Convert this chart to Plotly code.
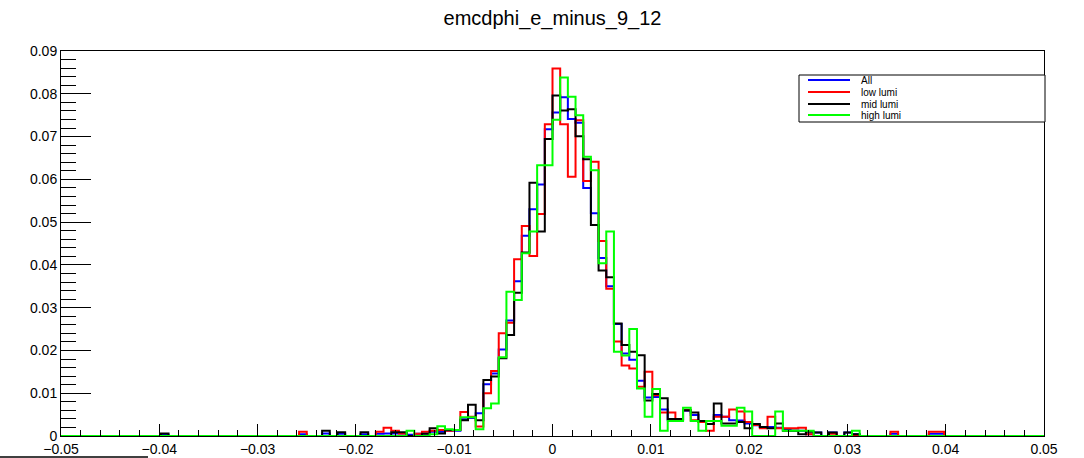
import numpy as np
import plotly.graph_objects as go

# ---------------- data ----------------
title_text = "emcdphi_e_minus_9_12"
series_names = ["All", "low lumi", "mid lumi", "high lumi"]
series_colors = ["#0000ff", "#ff0000", "#000000", "#00ff00"]
x_min, x_max, n_bins = -0.05, 0.05, 128

all_vals = [
    0, 0, 0, 0, 0, 0, 0, 0, 0, 0, 0, 0, 0, 0.0003, 0, 0,
    0, 0, 0, 0, 0, 0, 0, 0, 0, 0, 0, 0, 0, 0, 0, 0.0004,
    0, 0, 0.0006, 0, 0.0005, 0, 0, 0.0004, 0, 0.0005, 0.0006, 0.0006, 0.0006, 0.0003, 0.0005, 0.0006,
    0.0010, 0.0010, 0.0012, 0.0012, 0.0039, 0.0042, 0.0053, 0.0121, 0.0146, 0.0202, 0.0270, 0.0362, 0.0468, 0.0530, 0.0588, 0.0717,
    0.0756, 0.0792, 0.0741, 0.0732, 0.0580, 0.0521, 0.0416, 0.0350, 0.0262, 0.0193, 0.0178, 0.0129, 0.0090, 0.0091, 0.0062, 0.0037,
    0.0037, 0.0059, 0.0049, 0.0033, 0.0028, 0.0049, 0.0045, 0.0037, 0.0036, 0.0029, 0.0025, 0.0021, 0.0021, 0.0019, 0.0014, 0.0012,
    0.0012, 0.0004, 0.0008, 0, 0.0008, 0, 0.0008, 0.0004, 0, 0, 0, 0, 0.0005, 0, 0, 0,
    0, 0.0005, 0.0005, 0, 0, 0, 0, 0, 0, 0, 0, 0, 0, 0, 0, 0,
]

low_vals = [
    0, 0, 0, 0, 0, 0, 0, 0, 0, 0, 0, 0, 0, 0, 0, 0,
    0, 0, 0, 0, 0, 0, 0, 0, 0, 0, 0, 0, 0, 0, 0, 0.0010,
    0, 0, 0, 0, 0, 0, 0, 0, 0, 0.0010, 0.0019, 0.0012, 0.0006, 0, 0.0005, 0.0010,
    0.0012, 0.0014, 0.0012, 0.0014, 0.0056, 0.0045, 0.0022, 0.0100, 0.0152, 0.0240, 0.0265, 0.0413, 0.0491, 0.0421, 0.0519, 0.0729,
    0.0859, 0.0729, 0.0606, 0.0738, 0.0596, 0.0641, 0.0456, 0.0344, 0.0221, 0.0165, 0.0158, 0.0115, 0.0150, 0.0095, 0.0055, 0.0055,
    0.0037, 0.0060, 0.0037, 0.0033, 0.0012, 0.0045, 0.0045, 0.0062, 0.0057, 0.0033, 0.0026, 0.0018, 0.0045, 0.0018, 0.0018, 0.0018,
    0.0019, 0.0004, 0, 0, 0.0005, 0, 0, 0, 0, 0, 0, 0, 0.0010, 0, 0, 0,
    0, 0.0010, 0.0010, 0, 0, 0, 0, 0, 0, 0, 0, 0, 0, 0, 0, 0,
]

mid_vals = [
    0, 0, 0, 0, 0, 0, 0, 0, 0, 0, 0, 0, 0, 0.0006, 0, 0,
    0, 0, 0, 0, 0, 0, 0, 0, 0, 0, 0, 0, 0, 0, 0, 0,
    0, 0, 0.0012, 0, 0.0009, 0, 0, 0.0009, 0, 0, 0, 0.0009, 0.0009, 0, 0, 0.0005,
    0.0018, 0.0006, 0.0014, 0.0014, 0.0037, 0.0073, 0.0037, 0.0131, 0.0139, 0.0182, 0.0236, 0.0335, 0.0429, 0.0592, 0.0478, 0.0694,
    0.0796, 0.0761, 0.0764, 0.0701, 0.0647, 0.0493, 0.0387, 0.0371, 0.0263, 0.0213, 0.0197, 0.0189, 0.0083, 0.0098, 0.0088, 0.0040,
    0.0040, 0.0060, 0.0055, 0.0035, 0.0028, 0.0076, 0.0029, 0.0029, 0.0033, 0.0018, 0.0028, 0.0021, 0.0018, 0.0029, 0.0012, 0.0012,
    0.0004, 0.0010, 0.0008, 0, 0.0008, 0, 0.0008, 0.0004, 0, 0, 0, 0, 0, 0, 0, 0,
    0, 0, 0, 0, 0, 0, 0, 0, 0, 0, 0, 0, 0, 0, 0, 0,
]

high_vals = [
    0, 0, 0, 0, 0, 0, 0, 0, 0, 0, 0, 0, 0, 0, 0, 0,
    0, 0, 0, 0, 0, 0, 0, 0, 0, 0, 0, 0, 0, 0, 0, 0,
    0, 0, 0, 0, 0, 0, 0, 0, 0, 0, 0, 0, 0, 0.0012, 0, 0,
    0.0004, 0.0023, 0.0016, 0.0014, 0.0044, 0.0044, 0.0016, 0.0065, 0.0076, 0.0184, 0.0337, 0.0318, 0.0427, 0.0478, 0.0633, 0.0633,
    0.0739, 0.0838, 0.0793, 0.0750, 0.0653, 0.0621, 0.0404, 0.0478, 0.0197, 0.0188, 0.0250, 0.0111, 0.0045, 0.0110, 0.0012, 0.0035,
    0.0035, 0.0066, 0.0035, 0.0012, 0.0035, 0.0035, 0.0024, 0.0024, 0.0066, 0.0057, 0, 0, 0, 0.0057, 0.0012, 0.0012,
    0.0012, 0.0012, 0, 0, 0, 0, 0, 0.0012, 0, 0, 0, 0, 0, 0, 0, 0,
    0, 0, 0, 0, 0, 0, 0, 0, 0, 0, 0, 0, 0, 0, 0, 0,
]

series_values = [all_vals, low_vals, mid_vals, high_vals]

# ---------------- figure ----------------
W, H = 1084, 458
L, R, T, B = 61, 1044, 51, 436
FONT = "Liberation Sans, Helvetica, Arial, sans-serif"

edges = np.linspace(x_min, x_max, n_bins + 1)

fig = go.Figure()
for name, color, vals in zip(series_names, series_colors, series_values):
    xs = list(edges)
    ys = list(vals) + [vals[-1]]
    fig.add_trace(go.Scatter(
        x=xs, y=ys, mode="lines", name=name,
        line=dict(color=color, width=2, shape="hv"),
        showlegend=False, hoverinfo="skip",
    ))


def px(xp):
    return (xp - L) / (R - L)


def py(yp):
    return (B - yp) / (B - T)


shapes = []
annotations = []

# legend box
shapes.append(dict(type="rect", xref="paper", yref="paper",
                   x0=px(799), x1=px(1045), y0=py(122), y1=py(75),
                   line=dict(color="black", width=1), fillcolor="white", layer="above"))
row_y = [80, 92, 104, 115]
for name, color, yy in zip(series_names, series_colors, row_y):
    shapes.append(dict(type="line", xref="paper", yref="paper",
                       x0=px(808), x1=px(850), y0=py(yy), y1=py(yy),
                       line=dict(color=color, width=2), layer="above"))
    annotations.append(dict(text=name, xref="paper", yref="paper",
                            x=px(859), y=py(yy), xanchor="left", yanchor="middle",
                            showarrow=False, font=dict(family=FONT, size=10, color="black")))

# small line at the bottom left of the canvas
shapes.append(dict(type="line", xref="paper", yref="paper",
                   x0=px(0), x1=px(148), y0=py(457), y1=py(457),
                   line=dict(color="black", width=1.5)))

fig.update_layout(
    width=W, height=H,
    margin=dict(l=L, r=W - R, t=T, b=H - B, pad=0, autoexpand=False),
    paper_bgcolor="white", plot_bgcolor="white",
    title=dict(text=title_text, x=(L + R) / 2 / W, xanchor="center",
               y=1 - 18 / H, yanchor="middle",
               font=dict(family=FONT, size=20, color="black")),
    font=dict(family=FONT, size=14, color="black"),
    shapes=shapes, annotations=annotations,
    showlegend=False,
)

fig.update_xaxes(
    range=[x_min, x_max], showgrid=False, zeroline=False, automargin=False,
    showline=True, linecolor="black", linewidth=1, mirror=True,
    ticks="inside", ticklen=12, tickcolor="black", tickwidth=1,
    tick0=0, dtick=0.01, tickformat=".2~f",
    minor=dict(ticks="inside", ticklen=6, dtick=0.002, tick0=0, tickcolor="black", showgrid=False),
    tickfont=dict(family=FONT, size=14, color="black"),
)
fig.update_yaxes(
    range=[0, 0.09], showgrid=False, zeroline=False, automargin=False,
    showline=True, linecolor="black", linewidth=1, mirror=True,
    ticks="inside", ticklen=30, tickcolor="black", tickwidth=1,
    tick0=0, dtick=0.01, tickformat=".2~f",
    minor=dict(ticks="inside", ticklen=15, dtick=0.002, tick0=0, tickcolor="black", showgrid=False),
    tickfont=dict(family=FONT, size=14, color="black"),
)

fig.write_html(
    "out.html",
    config={"displayModeBar": False},
    post_script="document.body.style.margin='0';document.body.style.padding='0';",
)
